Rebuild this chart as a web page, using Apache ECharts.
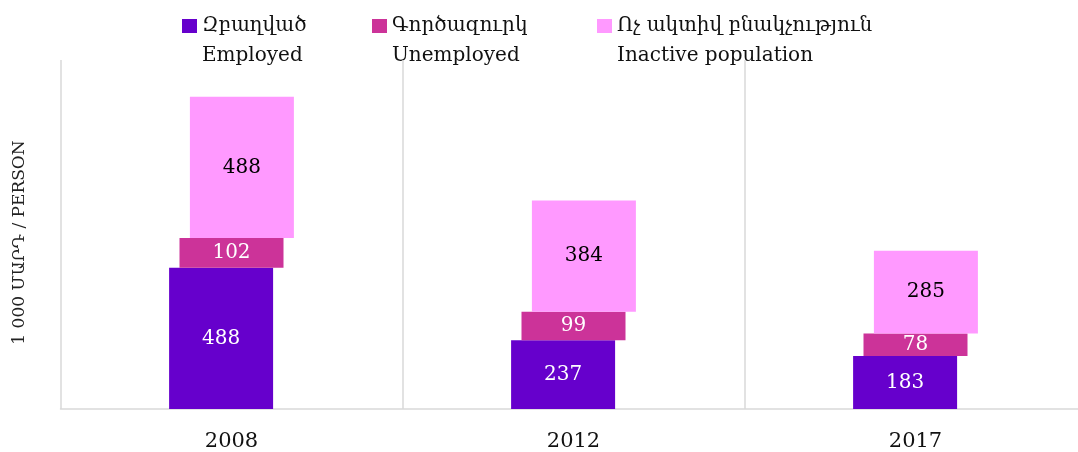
<!DOCTYPE html>
<html>
<head>
<meta charset="utf-8">
<script src="https://cdn.jsdelivr.net/npm/echarts@6/dist/echarts.min.js"></script>
<style>
    html, body { margin: 0; padding: 0; background: #fff; overflow: hidden; }
    #chart { width: 1088px; height: 452px; }
</style>
</head>
<body>
<div id="chart"></div>
<script>
let years = ['2008', '2012', '2017'];
let employed = [488, 237, 183];
let unemployed = [102, 99, 78];
let inactive = [488, 384, 285];

let seriesNames = ['Զբաղված\nEmployed', 'Գործազուրկ\nUnemployed', 'Ոչ ակտիվ բնակչություն\nInactive population'];
let colors = ['#6600cc', '#cc3399', '#ff99ff'];
let fontFamily = 'DejaVu Serif';

// legend drawn as graphic elements (box + two text lines per series)
function getLegendGraphic() {
    let lefts = [182, 372, 597];
    let elements = [];
    for (let i = 0; i < seriesNames.length; i++) {
        let parts = seriesNames[i].split('\n');
        elements.push({
            type: 'rect',
            shape: { x: lefts[i], y: 19, width: 15, height: 14 },
            style: { fill: colors[i] }
        });
        elements.push({
            type: 'text',
            x: lefts[i] + 20,
            y: 26,
            style: { text: parts[0], fill: '#111', font: '20px ' + fontFamily, verticalAlign: 'middle' }
        });
        elements.push({
            type: 'text',
            x: lefts[i] + 20,
            y: 56,
            style: { text: parts[1], fill: '#111', font: '20px ' + fontFamily, verticalAlign: 'middle' }
        });
    }
    return elements;
}

function renderChart() {
    // transparent bases so each stacked piece can sit at its own x offset
    let unemployedBase = [];
    let inactiveBase = [];
    for (let i = 0; i < years.length; i++) {
        unemployedBase.push(employed[i]);
        inactiveBase.push(employed[i] + unemployed[i]);
    }
    let labelStyle = (color) => ({
        show: true,
        position: 'inside',
        color: color,
        fontFamily: fontFamily,
        fontSize: 20
    });
    let options = {
        animation: false,
        textStyle: { fontFamily: fontFamily },
        graphic: getLegendGraphic(),
        grid: { left: 60.5, right: 1.5, top: 60, bottom: 42 },
        xAxis: {
            type: 'category',
            data: years,
            axisTick: { show: false },
            axisLine: { lineStyle: { color: '#d9d9d9', width: 1.5 } },
            splitLine: { show: true, lineStyle: { color: '#d9d9d9', width: 1.5 } },
            axisLabel: { color: '#111', fontFamily: fontFamily, fontSize: 21, margin: 22 }
        },
        yAxis: {
            type: 'value',
            min: 0,
            max: 1205,
            axisLabel: { show: false },
            axisLine: { show: false },
            axisTick: { show: false },
            splitLine: { show: false },
            name: '1 000 ՄԱՐԴ / PERSON',
            nameLocation: 'middle',
            nameGap: 32,
            nameTextStyle: { color: '#222', fontFamily: fontFamily, fontSize: 17, padding: [0, 16, 0, 0] }
        },
        series: [
            {
                name: seriesNames[0],
                type: 'bar',
                stack: 'a',
                barWidth: 104,
                barGap: '-90%',
                itemStyle: { color: colors[0] },
                label: labelStyle('#fff'),
                data: employed
            },
            {
                name: 'base1',
                type: 'bar',
                stack: 'b',
                barWidth: 104,
                itemStyle: { color: 'transparent' },
                silent: true,
                data: unemployedBase
            },
            {
                name: seriesNames[1],
                type: 'bar',
                stack: 'b',
                barWidth: 104,
                itemStyle: { color: colors[1] },
                label: labelStyle('#fff'),
                data: unemployed
            },
            {
                name: 'base2',
                type: 'bar',
                stack: 'c',
                barWidth: 104,
                itemStyle: { color: 'transparent' },
                silent: true,
                data: inactiveBase
            },
            {
                name: seriesNames[2],
                type: 'bar',
                stack: 'c',
                barWidth: 104,
                itemStyle: { color: colors[2] },
                label: labelStyle('#000'),
                data: inactive
            }
        ]
    };
    let chart = echarts.init(document.getElementById('chart'));
    chart.setOption(options);
}

renderChart();
</script>
</body>
</html>
